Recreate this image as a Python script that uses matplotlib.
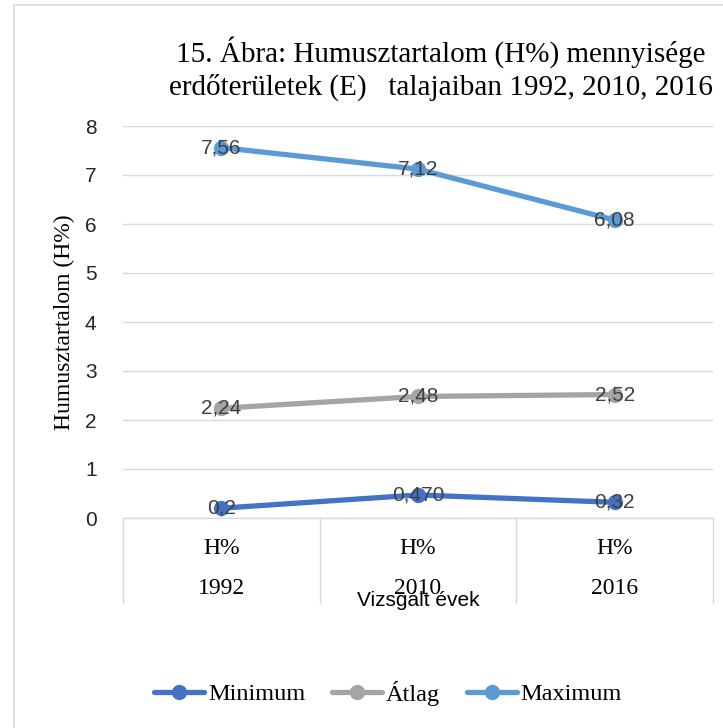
import matplotlib
matplotlib.use('Agg')
import matplotlib.pyplot as plt
from matplotlib.patches import Rectangle

# data
years = ['1992', '2010', '2016']
sub_labels = ['H%', 'H%', 'H%']
minimum = [0.2, 0.47, 0.32]
atlag = [2.24, 2.48, 2.52]
maximum = [7.56, 7.12, 6.08]
min_labels = ['0,2', '0,470', '0,32']
atl_labels = ['2,24', '2,48', '2,52']
max_labels = ['7,56', '7,12', '6,08']

series = [
    ('Minimum', minimum, min_labels, '#4472C4'),
    ('Átlag', atlag, atl_labels, '#A5A5A5'),
    ('Maximum', maximum, max_labels, '#5B9BD5'),
]

W, H = 723, 728
fig = plt.figure(figsize=(W / 100, H / 100), dpi=100)

# outer chart frame
fig.patches.append(Rectangle((14 / W, -0.02), 1.1, 1 - 5 / H + 0.02,
                             transform=fig.transFigure, fill=False,
                             edgecolor='#D9D9D9', lw=1.2))

ax = fig.add_axes([123 / W, (H - 518) / H, 590 / W, 392 / H])
x = list(range(len(years)))
ax.set_xlim(-0.5, len(years) - 0.5)
ax.set_ylim(0, 8)

for name, vals, labs, col in series:
    ax.plot(x, vals, color=col, lw=3.8, marker='o', ms=10, label=name,
            solid_capstyle='round', zorder=3)
    for xi, v, t in zip(x, vals, labs):
        ax.text(xi, v, t, ha='center', va='center', fontsize=15,
                family='Liberation Sans', color='#404040', zorder=4)

ax.set_yticks(range(0, 9))
ax.set_xticks([])
ax.tick_params(axis='y', length=0, pad=19, labelsize=15, labelcolor='#262626')
for lb in ax.get_yticklabels():
    lb.set_family('Liberation Sans')
ax.grid(axis='y', color='#D9D9D9', lw=1.0, zorder=0)
for s in ['left', 'right', 'top']:
    ax.spines[s].set_visible(False)
ax.spines['bottom'].set_color('#D9D9D9')
ax.spines['bottom'].set_linewidth(1.0)

# multi-level category box
box_h = 85 / 392
for b in [-0.5, 0.5, 1.5, 2.5]:
    ax.plot([b, b], [0, -box_h * 8], color='#D9D9D9', lw=1.0, clip_on=False)
for xi, sl, yr in zip(x, sub_labels, years):
    ax.text(xi, -30 / 49, sl, ha='center', va='center', fontsize=17,
            family='Liberation Serif')
    ax.text(xi, -70 / 49, yr, ha='center', va='center', fontsize=17,
            family='Liberation Serif')

fig.text(418 / W, 1 - 601 / H, 'Vizsgált évek', ha='center', va='center',
         fontsize=15, family='Liberation Sans')
fig.text(64 / W, 1 - 322 / H, 'Humusztartalom (H%)', rotation=90,
         ha='center', va='center', fontsize=17, family='Liberation Serif')

fig.text(441 / W, 1 - 52 / H, '15. Ábra: Humusztartalom (H%) mennyisége',
         ha='center', va='center', fontsize=21, family='Liberation Serif')
fig.text(441 / W, 1 - 87 / H, 'erdőterületek (E)   talajaiban 1992, 2010, 2016',
         ha='center', va='center', fontsize=21, family='Liberation Serif')

fig.legend(loc='center', bbox_to_anchor=(388 / W, 1 - 693 / H), ncol=3,
           frameon=False, prop={'family': 'Liberation Serif', 'size': 17.5},
           handlelength=2.06, handletextpad=0.15, columnspacing=1.1)

fig.savefig('out.png', dpi=100)
